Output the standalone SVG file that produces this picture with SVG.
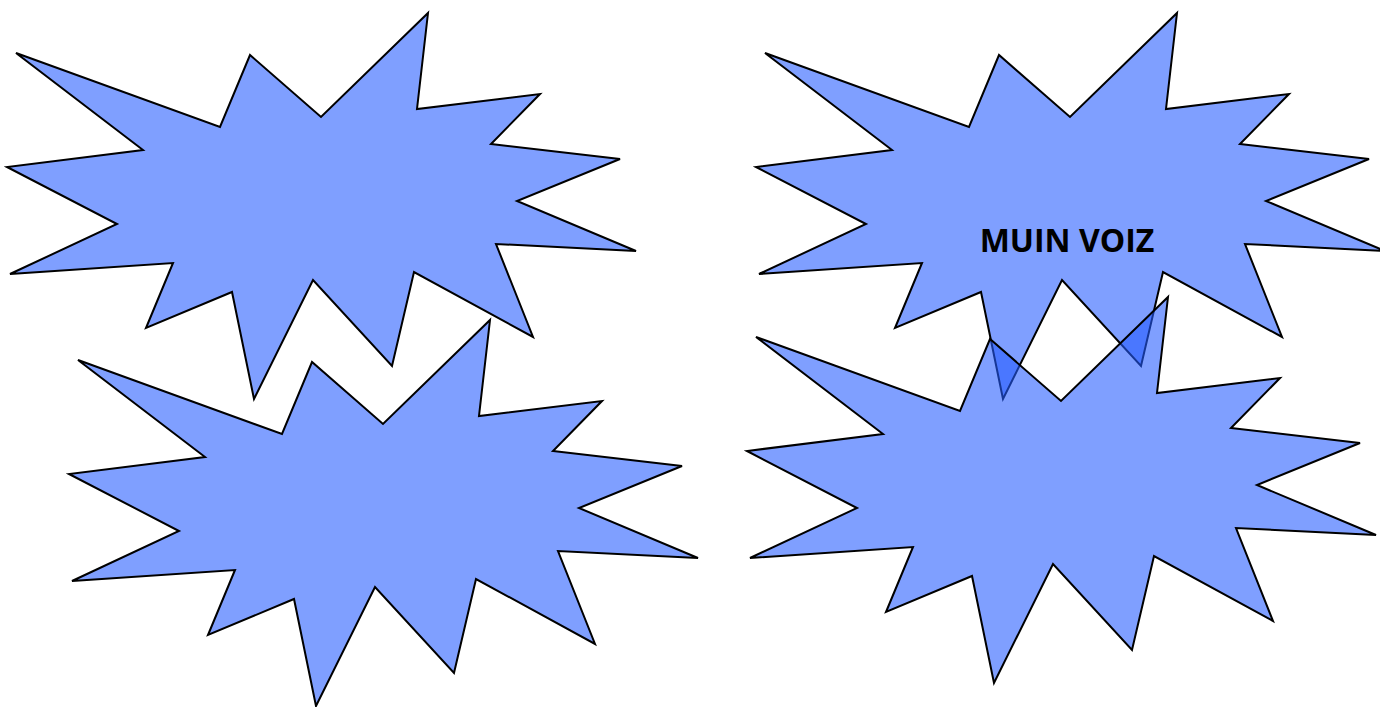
<svg xmlns="http://www.w3.org/2000/svg" xmlns:xlink="http://www.w3.org/1999/xlink" width="1380" height="707" viewBox="0 0 1380 707">
  <style>
    .burst { fill: #255BFF; fill-opacity: 0.59; stroke: #000000; stroke-width: 2; stroke-linejoin: miter; }
    .label { font-family: "Open Sans", "Liberation Sans", sans-serif; font-weight: bold; font-size: 32px; fill: #000000; }
  </style>
  <defs>
    <path id="star" d="M16,53 L220,127 L250,55 L321,117 L428,13 L417,109 L540,94 L491,144 L620,159 L517,201 L636,251 L496,244 L533,337 L414,272 L392,366 L313,280 L254,399 L232,292 L146,328 L173,263 L10,274 L117,224 L7,167 L143,150 Z"/>
  </defs>
  <rect width="1380" height="707" fill="#FFFFFF"/>
  <g id="burst-top-left">
    <use xlink:href="#star" class="burst"/>
  </g>
  <g id="burst-bottom-left">
    <use xlink:href="#star" class="burst" transform="translate(62,307)"/>
  </g>
  <g id="burst-top-right">
    <use xlink:href="#star" class="burst" transform="translate(749,0)"/>
    <text class="label" x="1067" y="252" text-anchor="middle">MUIN VOIZ</text>
  </g>
  <g id="burst-bottom-right">
    <use xlink:href="#star" class="burst" transform="translate(740,284)"/>
  </g>
  <g id="connectors"></g>
</svg>
